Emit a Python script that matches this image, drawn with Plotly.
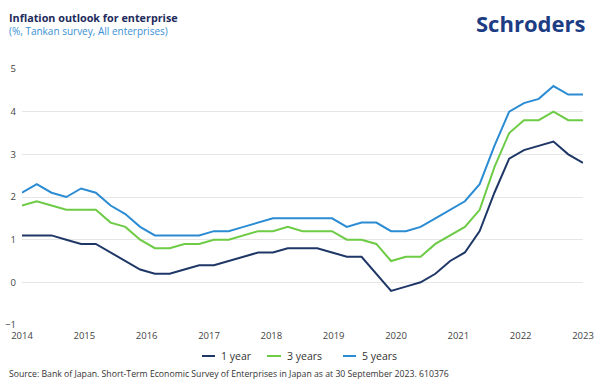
import plotly.graph_objects as go

# ---- data (Tankan survey, quarterly: Mar-2014 .. Sep-2023) ----
years = list(range(2014, 2024))
months = ["Mar", "Jun", "Sep", "Dec"]
quarters = [f"{m}-{y}" for y in years for m in months][:39]

one_year = [1.1, 1.1, 1.1, 1.0, 0.9, 0.9, 0.7, 0.5, 0.3, 0.2, 0.2,
            0.3, 0.4, 0.4, 0.5, 0.6, 0.7, 0.7, 0.8, 0.8, 0.8,
            0.7, 0.6, 0.6, 0.2, -0.2, -0.1, 0.0, 0.2, 0.5, 0.7, 1.2,
            2.1, 2.9, 3.1, 3.2, 3.3, 3.0, 2.8]
three_years = [1.8, 1.9, 1.8, 1.7, 1.7, 1.7, 1.4, 1.3, 1.0, 0.8, 0.8,
               0.9, 0.9, 1.0, 1.0, 1.1, 1.2, 1.2, 1.3, 1.2, 1.2,
               1.2, 1.0, 1.0, 0.9, 0.5, 0.6, 0.6, 0.9, 1.1, 1.3, 1.7,
               2.7, 3.5, 3.8, 3.8, 4.0, 3.8, 3.8]
five_years = [2.1, 2.3, 2.1, 2.0, 2.2, 2.1, 1.8, 1.6, 1.3, 1.1, 1.1,
              1.1, 1.1, 1.2, 1.2, 1.3, 1.4, 1.5, 1.5, 1.5, 1.5,
              1.5, 1.3, 1.4, 1.4, 1.2, 1.2, 1.3, 1.5, 1.7, 1.9, 2.3,
              3.2, 4.0, 4.2, 4.3, 4.6, 4.4, 4.4]

series_names = ["1 year", "3 years", "5 years"]
series_values = [one_year, three_years, five_years]
series_colors = ["#1f3767", "#6dcb45", "#2b8cd3"]

year_labels = [str(y) for y in years]
y_ticks = [-1, 0, 1, 2, 3, 4, 5]

# ---- layout geometry ----
W, H = 600, 390
ML, MR, MT, MB = 22, 17, 69, 65
PW, PH = W - ML - MR, H - MT - MB


def px(x):
    return (x - ML) / PW


def py(y):
    return (H - MB - y) / PH


FONT = "Open Sans"
xidx = list(range(len(quarters)))
n_int = len(quarters) - 1
tickpos = [k * n_int / (len(year_labels) - 1) for k in range(len(year_labels))]

fig = go.Figure()
for name, vals, col in zip(series_names, series_values, series_colors):
    fig.add_trace(go.Scatter(
        x=xidx, y=vals, name=name, mode="lines",
        line=dict(color=col, width=2),
        customdata=quarters, showlegend=False,
        hovertemplate="%{customdata}: %{y}<extra>" + name + "</extra>",
    ))

fig.update_layout(
    width=W, height=H,
    margin=dict(l=ML, r=MR, t=MT, b=MB, autoexpand=False),
    paper_bgcolor="white", plot_bgcolor="white",
    font=dict(family=FONT, size=10, color="#444"),
    showlegend=False,
    xaxis=dict(range=[0, n_int], tickmode="array", tickvals=tickpos, ticktext=year_labels,
               showgrid=False, zeroline=False, showline=False, ticks="",
               ticklabelstandoff=3,
               tickfont=dict(size=9.5, color="#444")),
    yaxis=dict(range=[-1, 5], tickmode="array", tickvals=y_ticks,
               showgrid=True, gridcolor="#e6e6e6", gridwidth=1,
               zeroline=True, zerolinecolor="#e6e6e6", zerolinewidth=1,
               showline=False, ticks="", ticklabelstandoff=5,
               tickfont=dict(size=9.5, color="#444")),
)

# custom legend (short line samples as in the reference)
legend_line_x = [(202, 215), (267, 281), (343, 356)]
legend_y = 356
for (x0, x1), name, col in zip(legend_line_x, series_names, series_colors):
    fig.add_shape(type="line", xref="paper", yref="paper",
                  x0=px(x0), x1=px(x1), y0=py(legend_y), y1=py(legend_y),
                  line=dict(color=col, width=2))
    fig.add_annotation(text=name, xref="paper", yref="paper",
                       x=px(x1 + 4), y=py(legend_y), xanchor="left", yanchor="middle",
                       showarrow=False, font=dict(family=FONT, size=10.5, color="#333"))

fig.add_annotation(text="<b>Inflation outlook for enterprise</b>", xref="paper", yref="paper",
                   x=px(7), y=py(17), xanchor="left", yanchor="middle", showarrow=False,
                   font=dict(family=FONT, size=10.8, color="#1e2b5c"))
fig.add_annotation(text="(%, Tankan survey, All enterprises)", xref="paper", yref="paper",
                   x=px(7), y=py(31), xanchor="left", yanchor="middle", showarrow=False,
                   font=dict(family=FONT, size=10, color="#3a90d4"))
fig.add_annotation(text="<b>Schroders</b>", xref="paper", yref="paper",
                   x=px(587), y=py(23), xanchor="right", yanchor="middle", showarrow=False,
                   font=dict(family=FONT, size=22, color="#1c3c84"))
fig.add_annotation(text="Source: Bank of Japan. Short-Term Economic Survey of Enterprises in Japan as at 30 September 2023. 610376",
                   xref="paper", yref="paper", x=px(7), y=py(374), xanchor="left", yanchor="middle",
                   showarrow=False, font=dict(family=FONT, size=8.7, color="#333"))

fig.write_html("out.html", config={"displayModeBar": False},
               post_script="document.body.style.margin='0';document.body.style.overflow='hidden';")
